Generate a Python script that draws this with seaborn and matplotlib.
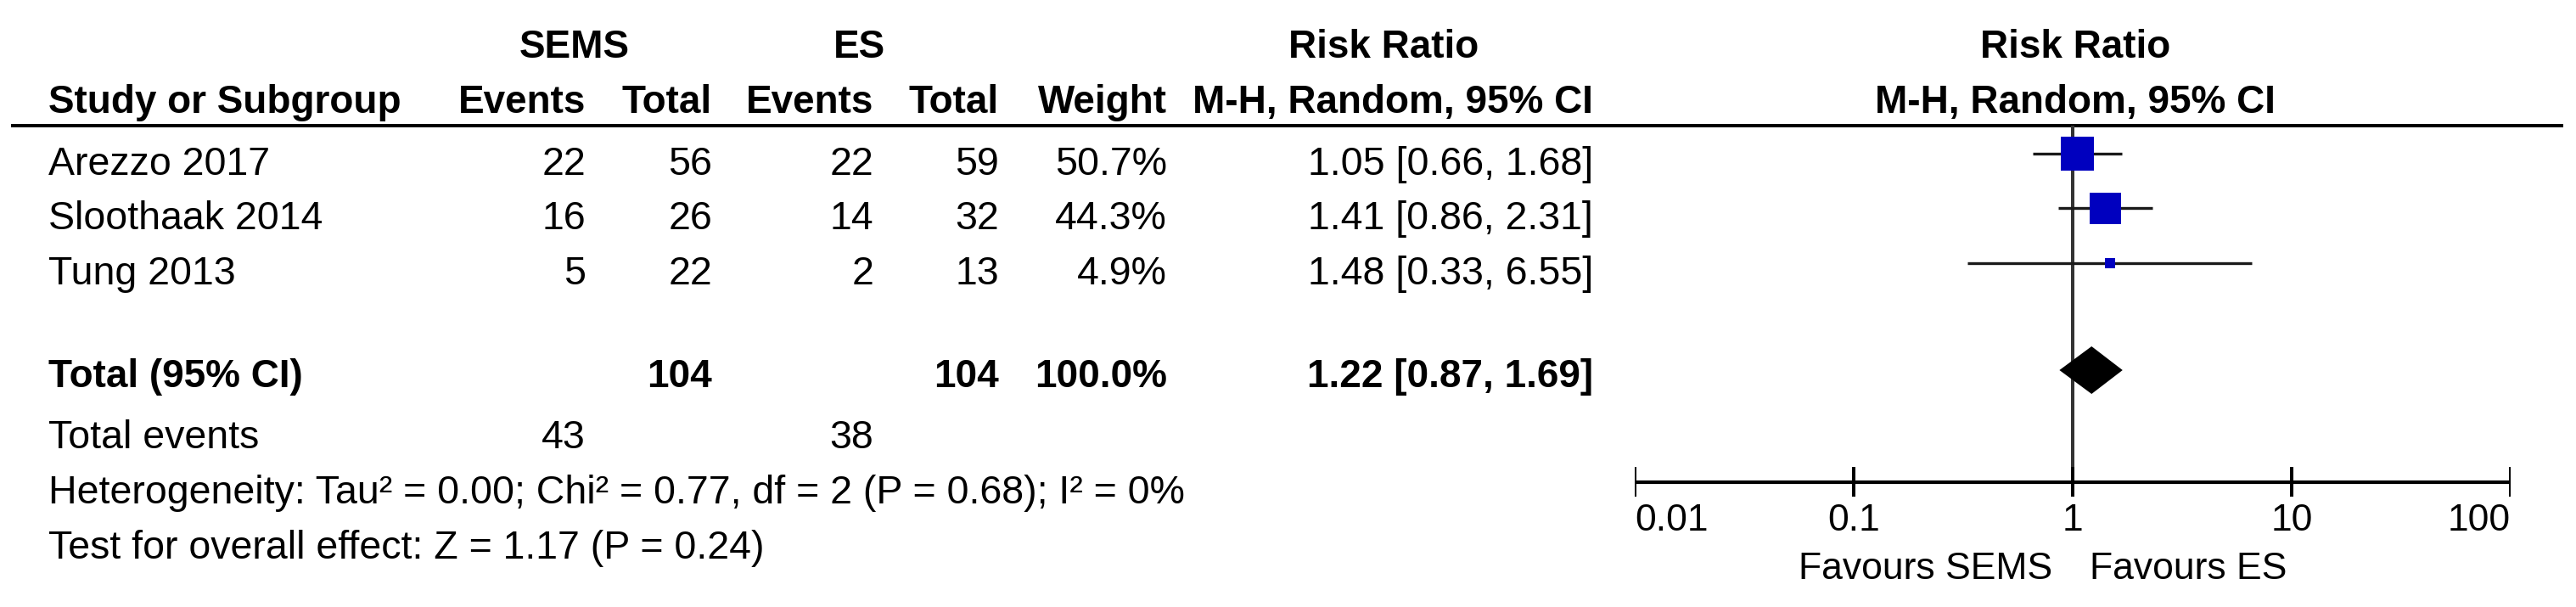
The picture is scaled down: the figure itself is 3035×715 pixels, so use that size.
import os
os.environ["MPLBACKEND"] = "Agg"
import matplotlib
matplotlib.use("Agg", force = True)

import pandas as pd
import seaborn as sns
import matplotlib.pyplot as plt

# data
studies     = ["Arezzo 2017", "Sloothaak 2014", "Tung 2013"]
sems_events = [22, 16, 5]
sems_total  = [56, 26, 22]
es_events   = [22, 14, 2]
es_total    = [59, 32, 13]
weights     = [50.7, 44.3, 4.9]
rr          = [1.05, 1.41, 1.48]
ci_lo       = [0.66, 0.86, 0.33]
ci_hi       = [1.68, 2.31, 6.55]

total_weight = 100.0
total_rr, total_lo, total_hi = 1.22, 0.87, 1.69
tick_values = [0.01, 0.1, 1, 10, 100]
tick_labels = ["0.01", "0.1", "1", "10", "100"]
heterogeneity = "Heterogeneity: Tau² = 0.00; Chi² = 0.77, df = 2 (P = 0.68); I² = 0%"
overall = "Test for overall effect: Z = 1.17 (P = 0.24)"
favours = ["Favours SEMS", "Favours ES"]

sns.set_theme(style = "white")
plt.rcParams['font.family'] = ['Liberation Sans', 'DejaVu Sans']

W, H = 3035, 715
fig = plt.figure(figsize = (W / 100, H / 100), dpi = 100)
fig.patch.set_facecolor("white")

# text layer in pixel coords
ax = fig.add_axes([0, 0, 1, 1])
ax.set_xlim(0, W)
ax.set_ylim(H, 0)
ax.axis("off")

fs = 33.5
fs_bold = 33
x_name = 57
x_cols = [690, 839, 1029, 1177, 1375, 1877]
row_step = 64.3
row0 = 181

def put(x, y, s, ha = "right", bold = False, size = None):
    if size is None:
        size = fs_bold if bold else fs
    ax.text(x, y, s, ha = ha, va = "baseline", fontsize = size,
            fontweight = "bold" if bold else "normal", color = "black")

# headers
put(677, 68, "SEMS", ha = "center", bold = True)
put(1012, 68, "ES", ha = "center", bold = True)
put(1630, 68, "Risk Ratio", ha = "center", bold = True)
put(2445, 68, "Risk Ratio", ha = "center", bold = True)
put(x_name, 133, "Study or Subgroup", ha = "left", bold = True)
for x, s in zip(x_cols, ["Events", "Total", "Events", "Total", "Weight", "M-H, Random, 95% CI"]):
    put(x, 133, s, bold = True)
put(2445, 133, "M-H, Random, 95% CI", ha = "center", bold = True)
ax.plot([13, 3020], [148, 148], color = "black", lw = 2.9, solid_capstyle = "butt")

# study rows
for i, name in enumerate(studies):
    y = row0 + i * row_step + 25
    put(x_name, y, name, ha = "left")
    vals = [sems_events[i], sems_total[i], es_events[i], es_total[i],
            f"{weights[i]:.1f}%", f"{rr[i]:.2f} [{ci_lo[i]:.2f}, {ci_hi[i]:.2f}]"]
    for x, v in zip(x_cols, vals):
        put(x, y, str(v))

# totals
put(x_name, 456, "Total (95% CI)", ha = "left", bold = True)
tot_vals = ["", sum(sems_total), "", sum(es_total), f"{total_weight:.1f}%",
            f"{total_rr:.2f} [{total_lo:.2f}, {total_hi:.2f}]"]
for x, v in zip(x_cols, tot_vals):
    put(x, 456, str(v), bold = True)
put(x_name, 528, "Total events", ha = "left")
put(x_cols[0], 528, str(sum(sems_events)))
put(x_cols[2], 528, str(sum(es_events)))
put(x_name, 593, heterogeneity, ha = "left")
put(x_name, 658, overall, ha = "left")

# forest panel, log scale
x0, x1 = 1926, 2958
fax = fig.add_axes([x0 / W, 0, (x1 - x0) / W, 1])
fax.set_xscale("log")
fax.patch.set_alpha(0)

axis_y = 568
fax.plot([1, 1], [148, axis_y], color = "#333333", lw = 2.9, solid_capstyle = "butt")

df = pd.DataFrame({
    "rr": rr, "lo": ci_lo, "hi": ci_hi, "weight": weights,
    "y": [row0 + i * row_step for i in range(len(studies))],
})
fax.hlines(df["y"], df["lo"], df["hi"], color = "#1a1a1a", lw = 2.4)
sns.scatterplot(data = df, x = "rr", y = "y", size = "weight", sizes = (0, 790),
                size_norm = (0, max(weights)), marker = "s", color = "#0000BF",
                linewidth = 0, legend = False, ax = fax, zorder = 3)
fax.set_xlim(tick_values[0], tick_values[-1])
fax.set_ylim(H, 0)
fax.axis("off")

ty = 436
fax.fill([total_lo, total_rr, total_hi, total_rr], [ty, ty - 28, ty, ty + 28],
         color = "black", lw = 0, zorder = 3)

# axis
fax.plot([tick_values[0], tick_values[-1]], [axis_y, axis_y], color = "black", lw = 3.0,
         solid_capstyle = "butt")
fax.vlines(tick_values, axis_y - 18, axis_y + 17, color = "black", lw = 2.9)
for i, (v, s) in enumerate(zip(tick_values, tick_labels)):
    ha = "left" if i == 0 else ("right" if i == len(tick_values) - 1 else "center")
    fax.text(v, 625, s, ha = ha, va = "baseline", fontsize = 32, color = "black")

put(2418, 682, favours[0], ha = "right", size = 32)
put(2462, 682, favours[1], ha = "left", size = 32)

fig.savefig("out.png", dpi = 100, facecolor = "white")
plt.close(fig)
